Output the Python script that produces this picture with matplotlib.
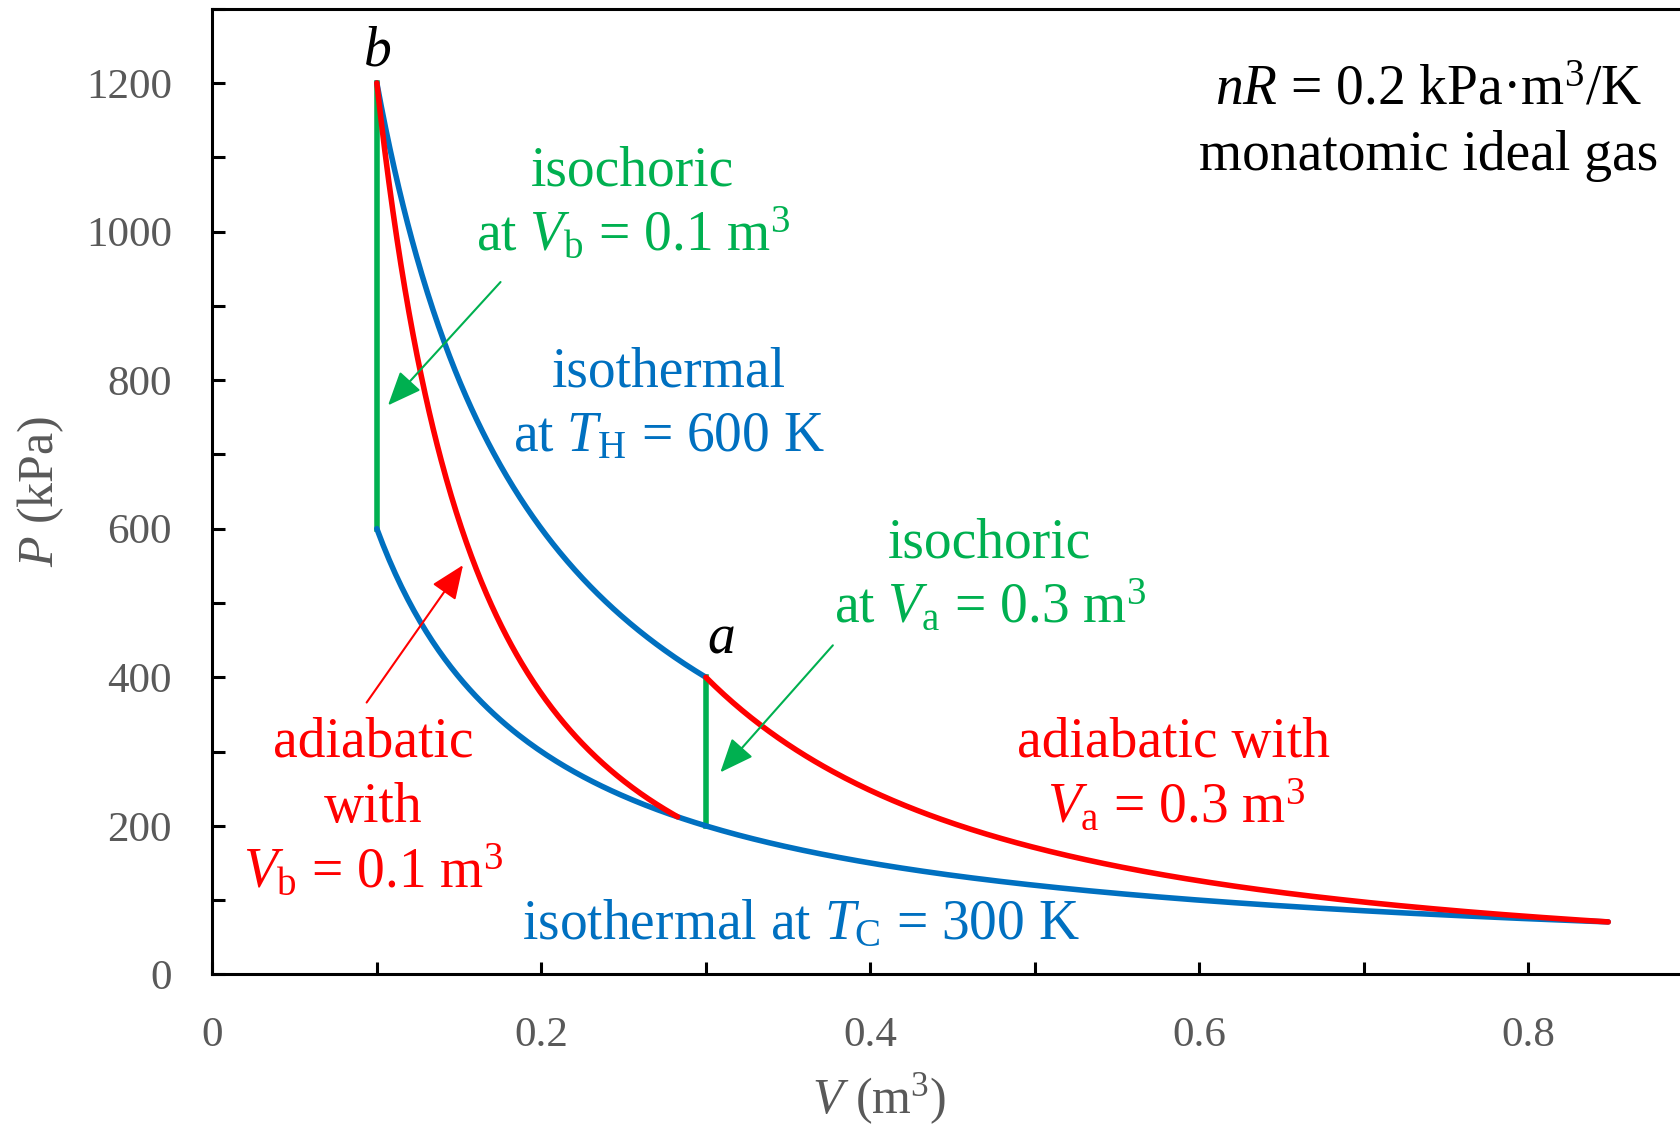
import numpy as np
import matplotlib
matplotlib.use('Agg')
import matplotlib.pyplot as plt

# font serif mirip Times
plt.rcParams['font.family'] = ['Liberation Serif', 'DejaVu Serif']
plt.rcParams['mathtext.fontset'] = 'custom'
plt.rcParams['mathtext.rm'] = 'Liberation Serif'
plt.rcParams['mathtext.it'] = 'Liberation Serif:italic'
plt.rcParams['mathtext.bf'] = 'Liberation Serif:bold'

# parameter gas (dibaca dari anotasi grafik)
nR = 0.2          # kPa m^3 / K
T_H = 600         # K
T_C = 300         # K
V_b = 0.1         # m^3
V_a = 0.3         # m^3
gamma = 5.0 / 3.0  # monatomik

# warna
blue = '#0070C0'
red = '#FF0000'
green = '#00B050'
gray = '#595959'

# titik potong adiabatik dengan isotermal T_C
V_b_end = V_b * (T_H / T_C) ** (1 / (gamma - 1))
V_a_end = V_a * (T_H / T_C) ** (1 / (gamma - 1))

P_b = nR * T_H / V_b
P_a = nR * T_H / V_a

fig = plt.figure(figsize=(16.81, 11.34), dpi=100)
ax = fig.add_axes([0.1263, 0.1407, 0.8808, 0.8517])

# isotermal panas
v = np.linspace(V_b, V_a, 300)
ax.plot(v, nR * T_H / v, color=blue, lw=4, solid_capstyle='round', zorder=3)
# isotermal dingin
v = np.linspace(V_b, V_a_end, 400)
ax.plot(v, nR * T_C / v, color=blue, lw=4, solid_capstyle='round', zorder=3)
# adiabatik lewat b
v = np.linspace(V_b, V_b_end, 300)
ax.plot(v, P_b * (V_b / v) ** gamma, color=red, lw=4, solid_capstyle='round', zorder=4)
# adiabatik lewat a
v = np.linspace(V_a, V_a_end, 300)
ax.plot(v, P_a * (V_a / v) ** gamma, color=red, lw=4, solid_capstyle='round', zorder=4)
# isokhorik
ax.plot([V_b, V_b], [nR * T_C / V_b, P_b], color=green, lw=4, zorder=2)
ax.plot([V_a, V_a], [nR * T_C / V_a, P_a], color=green, lw=4, zorder=2)

# sumbu
ax.set_xlim(0, 0.9)
ax.set_ylim(0, 1300)
ax.set_xticks(np.arange(0, 0.81, 0.2))
ax.set_xticks(np.arange(0, 0.91, 0.1), minor=True)
ax.set_xticklabels(['0', '0.2', '0.4', '0.6', '0.8'])
ax.set_yticks(np.arange(0, 1201, 200))
ax.set_yticks(np.arange(0, 1301, 100), minor=True)
for s in ax.spines.values():
    s.set_linewidth(2.2)
ax.tick_params(which='both', direction='in', length=9, width=2.2, colors='black',
               labelcolor=gray, labelsize=31)
ax.tick_params(axis='x', which='major', pad=30)
ax.tick_params(axis='y', which='major', pad=29)

ax.set_xlabel('$V$ (m$^3$)', fontsize=36, color=gray)
ax.xaxis.set_label_coords(0.45, -0.1)
ax.set_ylabel('$P$ (kPa)', fontsize=36, color=gray, va='center')
ax.yaxis.set_label_coords(-0.116, 0.5)

fs = 40
# label titik
ax.text(0.1, 1224, '$b$', fontsize=fs, ha='center', va='baseline')
ax.text(0.3094, 434, '$a$', fontsize=fs, ha='center', va='baseline')

# anotasi
ax.text(0.7394, 1171, '$nR$ = 0.2 kPa·m$^3$/K', fontsize=fs, ha='center', va='baseline')
ax.text(0.7394, 1083, 'monatomic ideal gas', fontsize=fs, ha='center', va='baseline')

ax.text(0.2557, 1062, 'isochoric', fontsize=fs, color=green, ha='center', va='baseline')
ax.text(0.2557, 975, r'at $V_\mathrm{b}$ = 0.1 m$^3$', fontsize=fs, color=green, ha='center', va='baseline')

ax.text(0.2775, 792, 'isothermal', fontsize=fs, color=blue, ha='center', va='baseline')
ax.text(0.2777, 704, r'at $T_\mathrm{H}$ = 600 K', fontsize=fs, color=blue, ha='center', va='baseline')

ax.text(0.4723, 561, 'isochoric', fontsize=fs, color=green, ha='center', va='baseline')
ax.text(0.4730, 474, r'at $V_\mathrm{a}$ = 0.3 m$^3$', fontsize=fs, color=green, ha='center', va='baseline')

ax.text(0.5844, 293, 'adiabatic with', fontsize=fs, color=red, ha='center', va='baseline')
ax.text(0.5860, 205, r'$V_\mathrm{a}$ = 0.3 m$^3$', fontsize=fs, color=red, ha='center', va='baseline')

ax.text(0.0977, 293, 'adiabatic', fontsize=fs, color=red, ha='center', va='baseline')
ax.text(0.0977, 205, 'with', fontsize=fs, color=red, ha='center', va='baseline')
ax.text(0.0977, 117, r'$V_\mathrm{b}$ = 0.1 m$^3$', fontsize=fs, color=red, ha='center', va='baseline')

ax.text(0.3576, 48, r'isothermal at $T_\mathrm{C}$ = 300 K', fontsize=fs, color=blue, ha='center', va='baseline')

# panah
aprops = dict(arrowstyle='-|>,head_length=0.6,head_width=0.25', lw=1.5,
              mutation_scale=35, shrinkA=0, shrinkB=0)
ax.annotate('', xy=(0.1068, 766), xytext=(0.1752, 932),
            arrowprops=dict(aprops, color=green), zorder=5)
ax.annotate('', xy=(0.3088, 272), xytext=(0.3772, 443),
            arrowprops=dict(aprops, color=green), zorder=5)
ax.annotate('', xy=(0.1524, 551), xytext=(0.0938, 366),
            arrowprops=dict(aprops, color=red), zorder=5)

fig.savefig('out.png', dpi=100)
